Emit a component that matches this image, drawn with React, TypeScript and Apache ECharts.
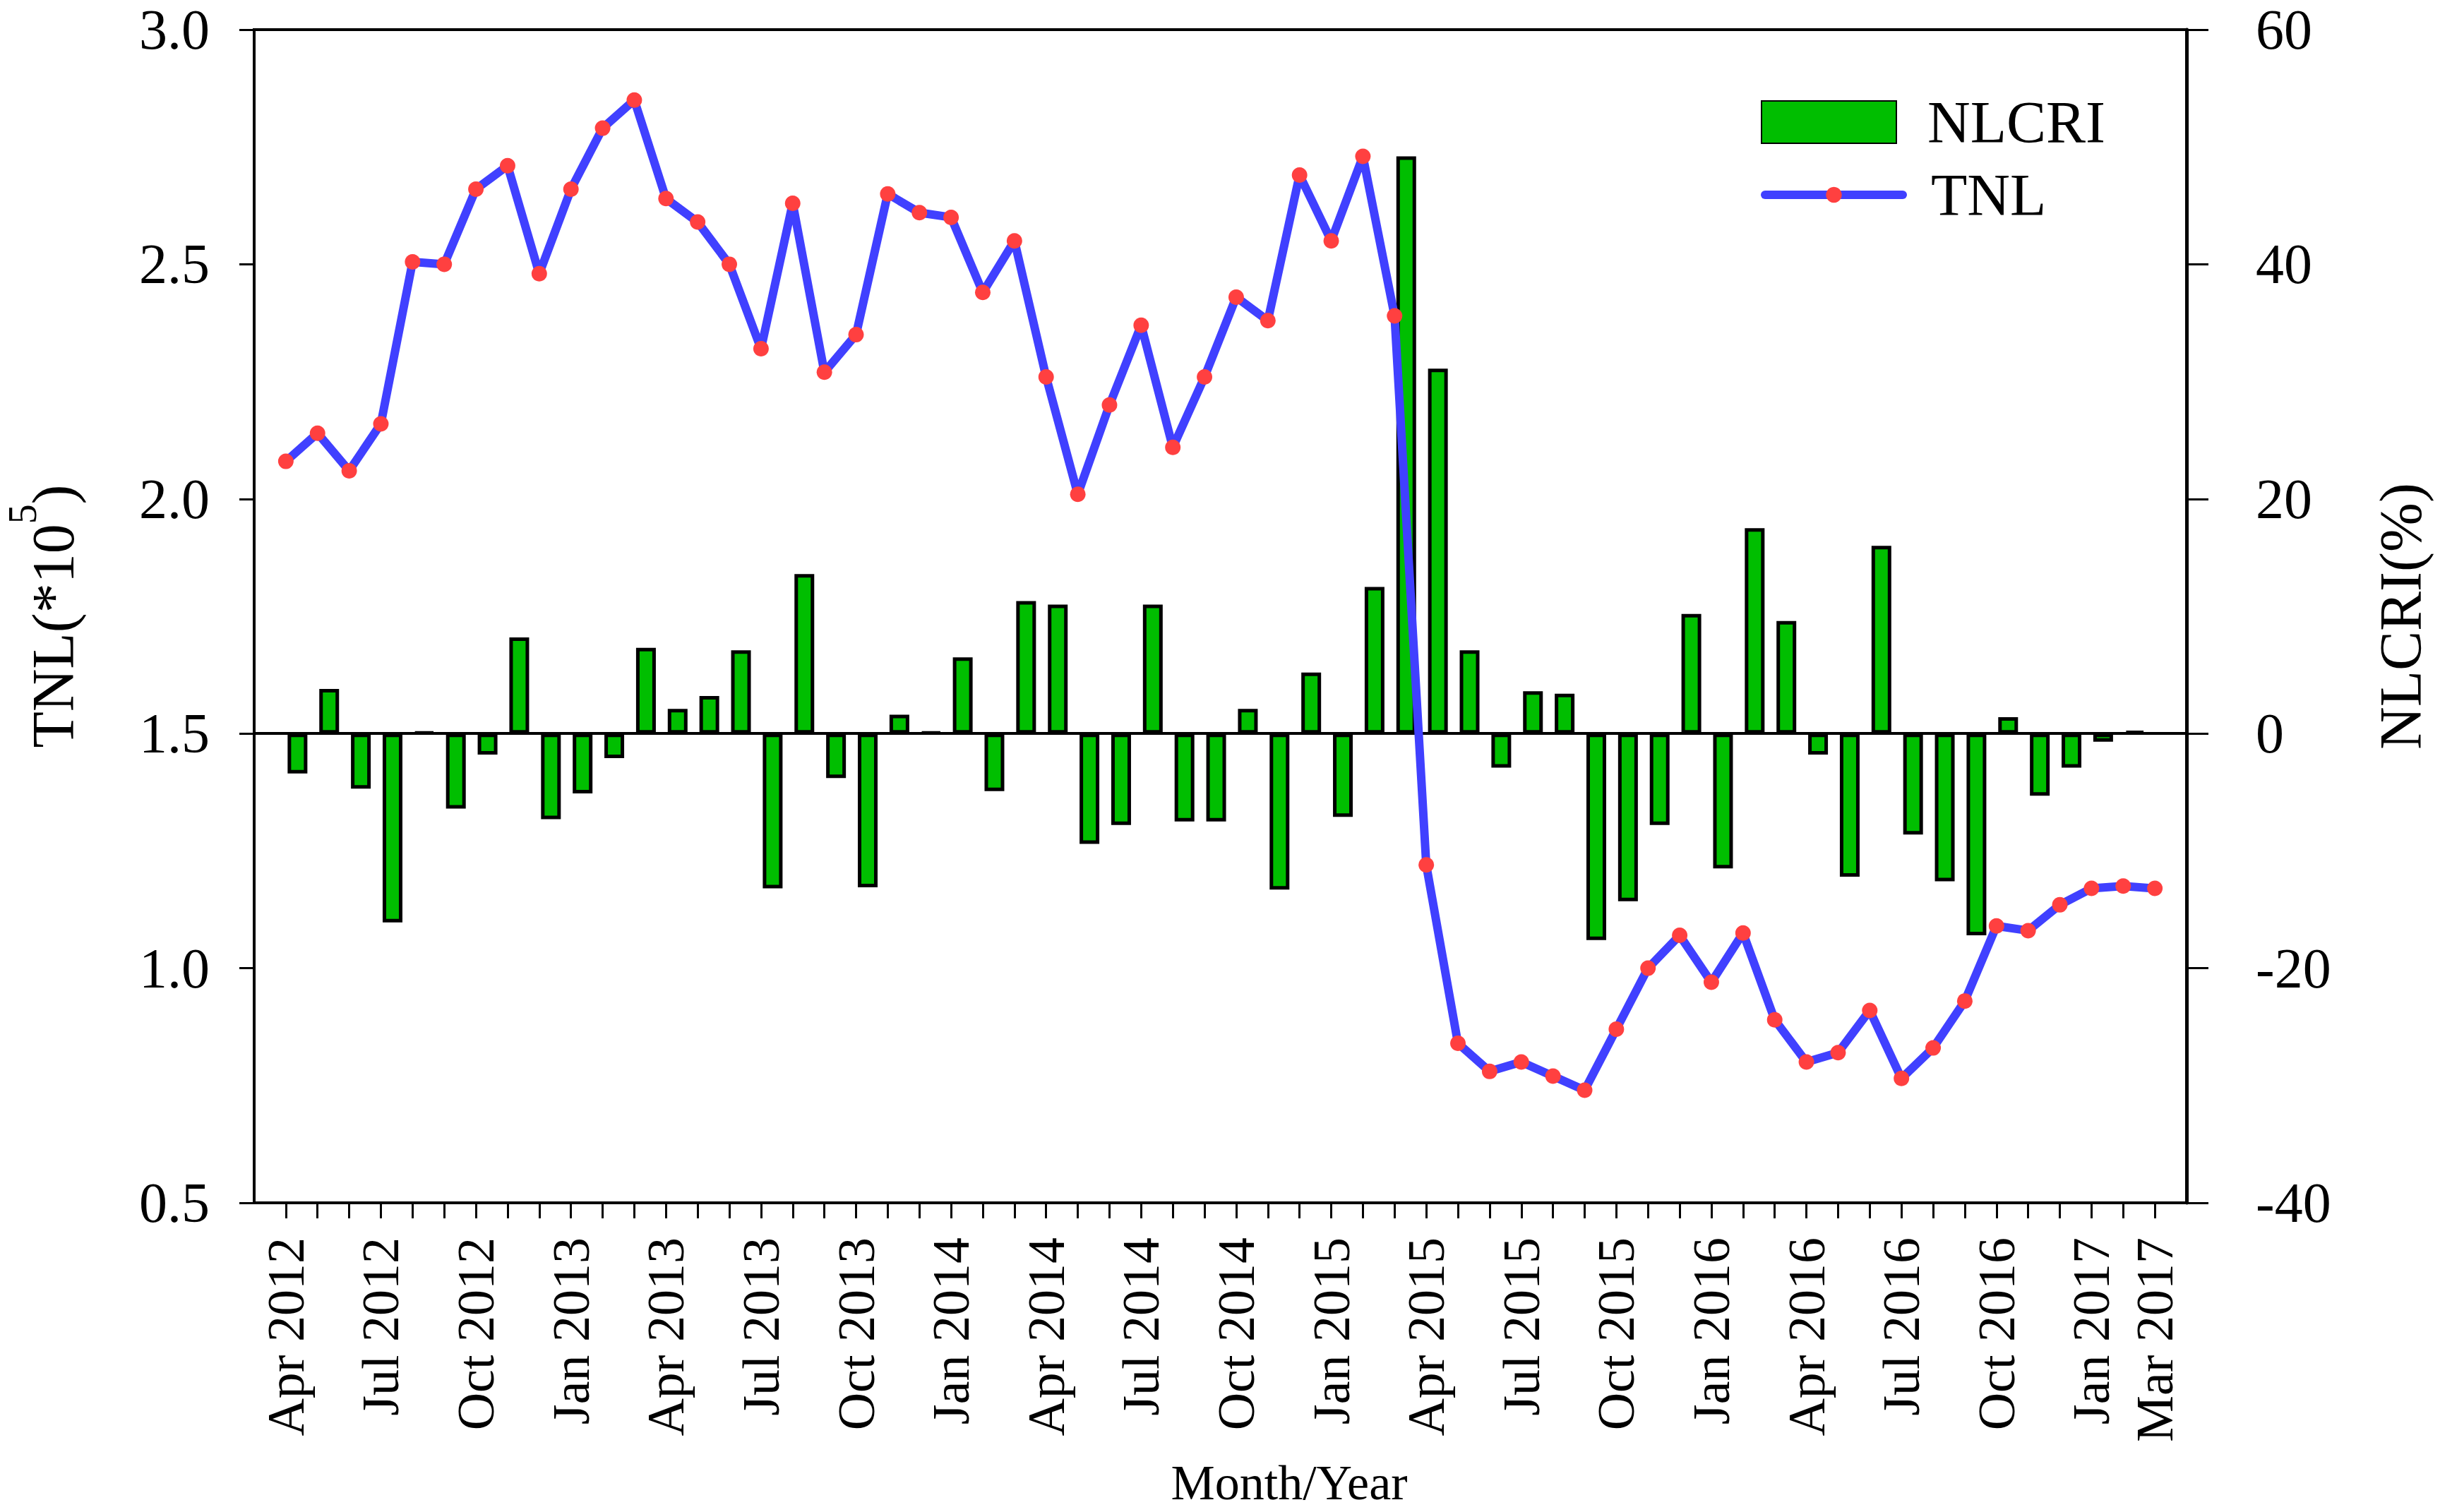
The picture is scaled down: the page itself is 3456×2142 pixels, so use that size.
import React, { useEffect, useRef } from "react";
import * as echarts from "echarts";

const MONTHS = [
  "Apr 2012", "May 2012", "Jun 2012", "Jul 2012", "Aug 2012", "Sep 2012", "Oct 2012", "Nov 2012", "Dec 2012",
  "Jan 2013", "Feb 2013", "Mar 2013", "Apr 2013", "May 2013", "Jun 2013", "Jul 2013", "Aug 2013", "Sep 2013",
  "Oct 2013", "Nov 2013", "Dec 2013", "Jan 2014", "Feb 2014", "Mar 2014", "Apr 2014", "May 2014", "Jun 2014",
  "Jul 2014", "Aug 2014", "Sep 2014", "Oct 2014", "Nov 2014", "Dec 2014", "Jan 2015", "Feb 2015", "Mar 2015",
  "Apr 2015", "May 2015", "Jun 2015", "Jul 2015", "Aug 2015", "Sep 2015", "Oct 2015", "Nov 2015", "Dec 2015",
  "Jan 2016", "Feb 2016", "Mar 2016", "Apr 2016", "May 2016", "Jun 2016", "Jul 2016", "Aug 2016", "Sep 2016",
  "Oct 2016", "Nov 2016", "Dec 2016", "Jan 2017", "Feb 2017", "Mar 2017",
];

const TICK_LABELS = [
  "Apr 2012", "Jul 2012", "Oct 2012", "Jan 2013", "Apr 2013", "Jul 2013", "Oct 2013", "Jan 2014",
  "Apr 2014", "Jul 2014", "Oct 2014", "Jan 2015", "Apr 2015", "Jul 2015", "Oct 2015", "Jan 2016",
  "Apr 2016", "Jul 2016", "Oct 2016", "Jan 2017", "Mar 2017",
];

// TNL (*10^5), left axis
const TNL = [
  2.08, 2.14, 2.06, 2.16, 2.505, 2.5, 2.66, 2.71, 2.48,
  2.66, 2.79, 2.85, 2.64, 2.59, 2.5, 2.32, 2.63, 2.27,
  2.35, 2.65, 2.61, 2.6, 2.44, 2.55, 2.26, 2.01, 2.2,
  2.37, 2.11, 2.26, 2.43, 2.38, 2.69, 2.55, 2.73, 2.39,
  1.22, 0.84, 0.78, 0.8, 0.77, 0.74, 0.87, 1.0, 1.07,
  0.97, 1.075, 0.89, 0.8, 0.82, 0.91, 0.765, 0.83, 0.93,
  1.09, 1.08, 1.135, 1.17, 1.175, 1.17,
];

// NLCRI (%), right axis
const NLCRI: (number | null)[] = [
  -3.4, 3.8, -4.7, -16.1, 0.1, -6.4, -1.8, 8.2, -7.3,
  -5.1, -2.1, 7.3, 2.1, 3.2, 7.1, -13.2, 13.6, -3.8,
  -13.1, 1.6, 0.1, 6.5, -4.9, 11.3, 11.0, -9.4, -7.8,
  11.0, -7.5, -7.5, 2.1, -13.3, 5.2, -7.1, 12.5, 49.2,
  31.1, 7.1, -2.9, 3.6, 3.4, -17.6, -14.3, -7.8, 10.2,
  -11.5, 17.5, 9.6, -1.8, -12.2, 16.0, -8.6, -12.6, -17.2,
  1.4, -5.3, -2.9, -0.7, 0.2, null,
];

const FONT = "Liberation Serif";

export default function App() {
  const ref = useRef<HTMLDivElement>(null);

  useEffect(() => {
    document.body.style.margin = "0";
    const chart = echarts.init(ref.current!, null, { renderer: "svg" });

    // one empty slot before the first month and after the last one
    const cats = ["", ...MONTHS, ""];
    const tnlData = [null, ...TNL, null];
    const barData = [null, ...NLCRI, null];
    const padData = cats.map(() => null);
    const labelSet = new Set(TICK_LABELS);

    const option: any = {
      animation: false,
      backgroundColor: "#ffffff",
      textStyle: { fontFamily: FONT, color: "#000" },
      grid: {
        left: 360,
        top: 42,
        width: 2737,
        height: 1662,
        outerBoundsMode: "none",
        containLabel: false,
        show: true,
        borderColor: "#000",
        borderWidth: 4,
        backgroundColor: "transparent",
      },
      legend: [
        {
          data: ["NLCRI"],
          orient: "vertical",
          left: 2489,
          top: 126,
          icon: "rect",
          itemWidth: 191,
          itemHeight: 60,
          textStyle: { fontSize: 84, fontFamily: FONT, color: "#000", padding: [0, 0, 0, 39] },
        },
        {
          data: ["TNL"],
          orient: "vertical",
          left: 2489,
          top: 229,
          itemWidth: 195,
          itemHeight: 28,
          lineStyle: { width: 12, cap: "round" },
          textStyle: { fontSize: 84, fontFamily: FONT, color: "#000", padding: [0, 0, 0, 35] },
        },
      ],
      xAxis: {
        type: "category",
        data: cats,
        boundaryGap: false,
        axisLine: { onZero: false, lineStyle: { color: "#000", width: 4 } },
        axisTick: {
          interval: (i: number) => i > 0 && i < cats.length - 1,
          length: 22,
          lineStyle: { color: "#000", width: 3 },
        },
        axisLabel: {
          interval: (i: number, v: string) => labelSet.has(v),
          showMinLabel: true,
          showMaxLabel: true,
          hideOverlap: false,
          rotate: 90,
          margin: 49,
          fontSize: 74,
          fontFamily: FONT,
          color: "#000",
        },
        splitLine: { show: false },
        name: "Month/Year",
        nameLocation: "middle",
        nameGap: 361,
        nameMoveOverlap: false,
        nameTextStyle: { fontSize: 70, fontFamily: FONT, color: "#000", padding: [0, 0, 0, 195] },
      },
      yAxis: [
        {
          type: "value",
          position: "left",
          min: 0.5,
          max: 3.0,
          interval: 0.5,
          axisLine: { show: true, lineStyle: { color: "#000", width: 4 } },
          axisTick: { show: true, length: 21, lineStyle: { color: "#000", width: 3 } },
          axisLabel: {
            margin: 63,
            fontSize: 80,
            lineHeight: 80,
            fontFamily: FONT,
            color: "#000",
            formatter: (v: number) => v.toFixed(1),
          },
          splitLine: { show: false },
          name: "{a|TNL(*10}{s|5}{a|)}",
          nameLocation: "middle",
          nameRotate: 90,
          nameGap: 214,
          nameMoveOverlap: false,
          nameTextStyle: {
            rich: {
              a: { fontSize: 84, fontFamily: FONT, color: "#000" },
              s: { fontSize: 56, fontFamily: FONT, color: "#000", padding: [0, 0, 86, 0] },
            },
          },
        },
        {
          type: "value",
          position: "right",
          min: -40,
          max: 60,
          interval: 20,
          axisLine: { show: true, lineStyle: { color: "#000", width: 5 } },
          axisTick: { show: true, length: 31, lineStyle: { color: "#000", width: 3 } },
          axisLabel: { margin: 98, fontSize: 80, lineHeight: 80, fontFamily: FONT, color: "#000" },
          splitLine: { show: false },
          name: "NLCRI(%)",
          nameLocation: "middle",
          nameRotate: 90,
          nameGap: 261,
          nameMoveOverlap: false,
          nameTextStyle: { fontSize: 84, fontFamily: FONT, color: "#000" },
        },
      ],
      series: [
        {
          name: "_pad",
          type: "bar",
          yAxisIndex: 1,
          data: padData,
          barWidth: 10,
          barGap: "230%",
          silent: true,
        },
        {
          name: "NLCRI",
          type: "bar",
          yAxisIndex: 1,
          data: barData,
          barWidth: 28,
          barGap: "230%",
          itemStyle: { color: "#00BE00", borderColor: "#000", borderWidth: 5 },
          markLine: {
            silent: true,
            symbol: "none",
            label: { show: false },
            lineStyle: { color: "#000", width: 4, type: "solid" },
            data: [{ yAxis: 0 }],
          },
        },
        {
          name: "TNL",
          type: "line",
          yAxisIndex: 0,
          data: tnlData,
          symbol: "circle",
          symbolSize: 22,
          showAllSymbol: true,
          lineStyle: { color: "#4040FF", width: 12 },
          itemStyle: { color: "#FF4040" },
          z: 5,
        },
      ],
    };

    chart.setOption(option);
    return () => chart.dispose();
  }, []);

  return (
    <div
      ref={ref}
      style={{ position: "fixed", left: 0, top: 0, width: 3456, height: 2142, background: "#fff" }}
    />
  );
}
